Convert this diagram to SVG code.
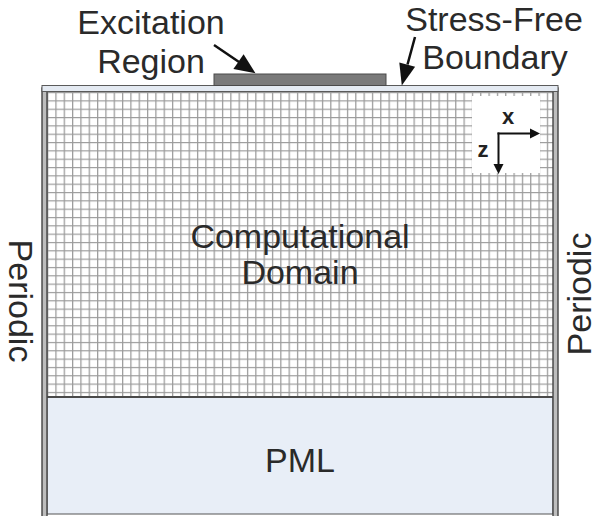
<svg xmlns="http://www.w3.org/2000/svg" width="599" height="516" viewBox="0 0 599 516">
  <style>
    .lbl { font-family: "Liberation Sans", Arial, sans-serif; font-size: 34px; fill: #2a2a2a; }
    .axis { font-family: "Liberation Sans", Arial, sans-serif; font-size: 22px; font-weight: bold; fill: #222; }
    .wall { fill: #bdbdbd; stroke: #444; stroke-width: 1.4; }
    .ptr { stroke: #111; stroke-width: 2.5; fill: none; }
    .tip { fill: #111; stroke: none; }
  </style>
  <defs>
    <pattern id="mesh" x="47" y="92" width="8.33" height="8.33" patternUnits="userSpaceOnUse">
      <path d="M0.6 0 V8.33 M0 0.6 H8.33" stroke="#9a9a9a" stroke-width="1.3" fill="none"/>
    </pattern>
  </defs>

  <!-- computational domain (meshed) -->
  <g id="domain">
    <rect x="47" y="91" width="506" height="306" fill="#ffffff"/>
    <rect x="47" y="91" width="506" height="306" fill="url(#mesh)"/>
    <text class="lbl" x="300" y="248" text-anchor="middle">Computational</text>
    <text class="lbl" x="300" y="284" text-anchor="middle">Domain</text>
  </g>

  <!-- absorbing layer -->
  <g id="pml">
    <rect x="47" y="397" width="506" height="117" fill="#e8eef7" stroke="#555" stroke-width="1"/>
    <line x1="47" y1="397" x2="553" y2="397" stroke="#4a4a4a" stroke-width="1.8"/>
    <text class="lbl" x="300" y="472" text-anchor="middle">PML</text>
  </g>

  <!-- periodic side walls -->
  <g id="wall-left">
    <rect class="wall" x="42" y="88" width="5" height="430"/>
    <text class="lbl" transform="translate(9 301) rotate(90)" text-anchor="middle">Periodic</text>
  </g>
  <g id="wall-right">
    <rect class="wall" x="553" y="88" width="5" height="430"/>
    <text class="lbl" transform="translate(591 294) rotate(-90)" text-anchor="middle">Periodic</text>
  </g>

  <!-- top surface -->
  <g id="surface">
    <rect x="42" y="85.5" width="516" height="6" fill="#e4eaf2" stroke="#5a5a5a" stroke-width="1"/>
  </g>

  <!-- source strip -->
  <g id="excitation">
    <rect x="214" y="74" width="172" height="11.5" fill="#7a7a7a" stroke="#4a4a4a" stroke-width="1"/>
    <text class="lbl" x="151" y="34" text-anchor="middle">Excitation</text>
    <text class="lbl" x="151" y="73" text-anchor="middle">Region</text>
  </g>

  <g id="boundary-label">
    <text class="lbl" x="494" y="31" text-anchor="middle">Stress-Free</text>
    <text class="lbl" x="495" y="69" text-anchor="middle">Boundary</text>
  </g>

  <!-- axes inset -->
  <g id="axes">
    <rect x="472" y="96" width="68" height="77" fill="#ffffff"/>
    <text class="axis" x="508" y="124" text-anchor="middle">x</text>
    <text class="axis" x="483" y="157" text-anchor="middle">z</text>
    <line x1="497.5" y1="133.5" x2="531" y2="133.5" stroke="#111" stroke-width="2"/>
    <polygon class="tip" points="540,133.5 530,128.5 530,138.5"/>
    <line x1="498.5" y1="132.5" x2="498.5" y2="165" stroke="#111" stroke-width="2"/>
    <polygon class="tip" points="498.5,174 493.5,164 503.5,164"/>
  </g>

  <!-- leader arrows -->
  <g id="connectors">
    <line class="ptr" x1="214" y1="45" x2="239" y2="62"/>
    <polygon class="tip" points="255.5,73.3 233.4,69.1 243.6,54.3"/>
    <line class="ptr" x1="415" y1="37" x2="407.5" y2="64.5"/>
    <polygon class="tip" points="401.8,85.5 399.3,62.6 415.1,66.8"/>
  </g>
</svg>
